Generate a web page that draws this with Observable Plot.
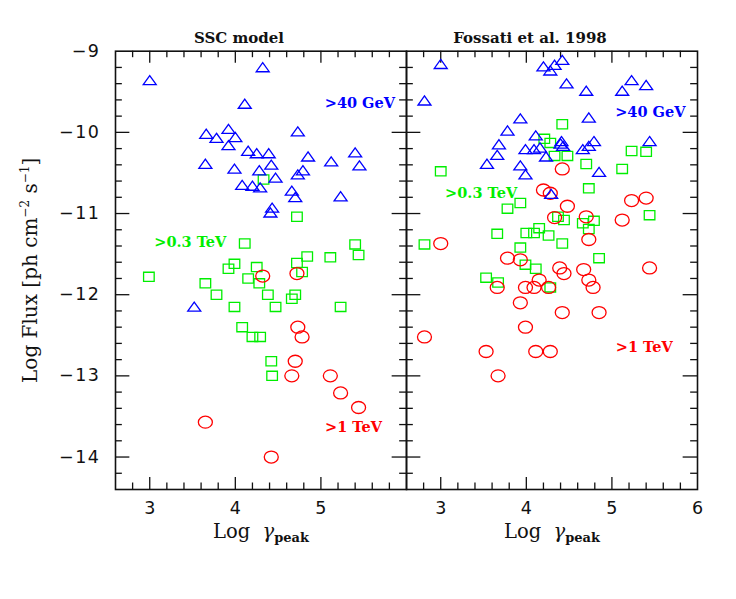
<!DOCTYPE html>
<html><head><meta charset="utf-8">
<script src="https://cdn.jsdelivr.net/npm/d3@7"></script>
<script src="https://cdn.jsdelivr.net/npm/@observablehq/plot@0.6"></script>
<style>body{margin:0;background:#fff} svg{display:block}</style>
</head><body><div id="chart"></div>
<script>
// ---------- data ----------
const panels = ["SSC model", "Fossati et al. 1998"];

// SSC model panel: [log gamma_peak, log flux]
const sscGeV40 = [[3.00,-9.36],[4.32,-9.20],[4.11,-9.65],[3.66,-10.02],[3.78,-10.07],[3.92,-9.96],[4.00,-10.06],[3.92,-10.16],[4.73,-9.99],[4.15,-10.23],[4.25,-10.26],[4.39,-10.26],[3.65,-10.39],[3.99,-10.45],[4.28,-10.47],[4.42,-10.40],[4.47,-10.56],[4.73,-10.52],[4.79,-10.47],[4.85,-10.30],[5.12,-10.36],[5.40,-10.25],[5.45,-10.41],[4.08,-10.65],[4.20,-10.66],[4.29,-10.68],[4.66,-10.72],[4.70,-10.80],[5.23,-10.79],[4.43,-10.93],[4.41,-10.99],[3.52,-12.15]];
const sscTeV03 = [[4.33,-10.58],[4.72,-11.04],[4.11,-11.37],[5.40,-11.38],[4.84,-11.53],[5.11,-11.54],[5.44,-11.51],[2.99,-11.78],[3.99,-11.62],[3.92,-11.68],[4.25,-11.66],[4.15,-11.80],[4.28,-11.86],[4.72,-11.61],[4.78,-11.72],[3.65,-11.86],[3.78,-12.00],[4.38,-12.00],[4.70,-12.00],[4.66,-12.05],[3.99,-12.15],[4.47,-12.15],[5.23,-12.15],[4.08,-12.40],[4.20,-12.52],[4.29,-12.52],[4.42,-12.82],[4.43,-13.00]];
const sscTeV1 = [[4.32,-11.77],[4.72,-11.74],[4.73,-12.40],[4.78,-12.52],[4.70,-12.82],[4.66,-13.00],[5.11,-13.00],[5.23,-13.21],[5.44,-13.39],[3.65,-13.57],[4.42,-14.00]];

// Fossati et al. 1998 panel
const fosGeV40 = [[3.00,-9.16],[2.81,-9.61],[4.20,-9.19],[4.28,-9.24],[4.33,-9.17],[4.42,-9.11],[4.47,-9.40],[4.70,-9.49],[5.23,-9.36],[5.12,-9.49],[5.40,-9.42],[3.93,-9.83],[4.73,-9.82],[3.78,-9.98],[3.68,-10.15],[3.66,-10.28],[3.54,-10.39],[4.11,-10.04],[3.99,-10.21],[4.09,-10.21],[4.16,-10.19],[4.23,-10.30],[4.40,-10.14],[4.43,-10.17],[4.41,-10.11],[4.66,-10.21],[4.73,-10.17],[4.79,-10.11],[5.44,-10.11],[3.93,-10.41],[3.99,-10.52],[4.85,-10.49],[4.29,-10.76]];
const fosTeV03 = [[4.42,-9.90],[4.21,-10.08],[4.28,-10.13],[4.33,-10.29],[4.48,-10.29],[5.23,-10.23],[5.40,-10.24],[3.00,-10.48],[4.70,-10.39],[5.12,-10.45],[4.73,-10.69],[3.93,-10.87],[3.78,-10.94],[5.44,-11.02],[4.37,-11.04],[4.44,-11.08],[4.66,-11.12],[4.79,-11.09],[4.73,-11.19],[4.15,-11.18],[4.00,-11.24],[4.09,-11.24],[4.26,-11.27],[3.66,-11.25],[4.42,-11.37],[3.93,-11.42],[2.81,-11.38],[4.85,-11.55],[3.99,-11.63],[4.11,-11.68],[3.53,-11.79],[3.67,-11.85],[4.28,-11.91]];
const fosTeV1 = [[4.42,-10.45],[4.20,-10.71],[4.28,-10.75],[4.48,-10.91],[5.23,-10.84],[5.40,-10.81],[4.33,-11.05],[4.70,-11.04],[5.12,-11.08],[3.00,-11.37],[4.73,-11.32],[3.78,-11.55],[3.93,-11.57],[4.39,-11.67],[4.44,-11.74],[4.67,-11.69],[4.73,-11.82],[4.78,-11.91],[5.44,-11.67],[4.15,-11.82],[3.99,-11.91],[4.09,-11.91],[4.26,-11.91],[3.66,-11.91],[3.93,-12.10],[4.42,-12.22],[4.85,-12.22],[3.99,-12.40],[2.81,-12.52],[3.53,-12.70],[4.11,-12.70],[4.28,-12.70],[3.67,-13.00]];

// tick labels
const xTickLabelsLeft = [3, 4, 5];
const xTickLabelsRight = [3, 4, 5, 6];
const yTickLabels = [-9, -10, -11, -12, -13, -14];

// band labels: [panel index, text, x, y]
const bandLabels = [
  [0, ">40 GeV", 5.455, -9.64], [0, ">0.3 TeV", 3.474, -11.35], [0, ">1 TeV", 5.38, -13.64],
  [1, ">40 GeV", 5.448, -9.75], [1, ">0.3 TeV", 3.472, -10.75], [1, ">1 TeV", 5.378, -12.65]
];

// ---------- layout ----------
const W = 736, H = 599;
const mL = 114, mR = 38.7, mT = 50.7, mB = 110;
const innerH = H - mT - mB;
const facetW = (W - mL - mR) / 2;

const blue = "#0000ff", green = "#00ee00", red = "#ff0000", ink = "#111";

const rows = (arr, panel) => arr.map(([x, y]) => ({panel, x, y}));
const tri = [...rows(sscGeV40, panels[0]), ...rows(fosGeV40, panels[1])];
const sq = [...rows(sscTeV03, panels[0]), ...rows(fosTeV03, panels[1])];
const circ = [...rows(sscTeV1, panels[0]), ...rows(fosTeV1, panels[1])];

// custom symbols (size = 64 when r = 8/sqrt(pi))
const R = 8 / Math.sqrt(Math.PI);
const triSym = {draw(c, s) { const k = Math.sqrt(s) / 8;
  c.moveTo(0, -4.8 * k); c.lineTo(6.5 * k, 4.3 * k); c.lineTo(-6.5 * k, 4.3 * k); c.closePath(); }};
const sqSym = {draw(c, s) { const k = Math.sqrt(s) / 8, w = 5.3 * k, h = 4.6 * k;
  c.moveTo(-w, -h); c.lineTo(w, -h); c.lineTo(w, h); c.lineTo(-w, h); c.closePath(); }};
const ellSym = {draw(c, s) { const k = Math.sqrt(s) / 8, a = 7 * k, b = 6 * k, q = 0.5523;
  c.moveTo(a, 0);
  c.bezierCurveTo(a, q * b, q * a, b, 0, b);
  c.bezierCurveTo(-q * a, b, -a, q * b, -a, 0);
  c.bezierCurveTo(-a, -q * b, -q * a, -b, 0, -b);
  c.bezierCurveTo(q * a, -b, a, -q * b, a, 0);
  c.closePath(); }};

const xMajor = [3, 4, 5];
const xMinor = d3.range(14, 30).map(i => i / 5).filter(v => Math.abs(v - Math.round(v)) > 1e-6);
const yMajor = [-10, -11, -12, -13, -14];
const yMinor = d3.range(-71, -45).map(i => i / 5).filter(v => Math.abs(v - Math.round(v)) > 1e-6 && v > -14.4);

const sans = "DejaVu Sans", serif = "DejaVu Serif";

const xLab = [...xTickLabelsLeft.map(v => ({panel: panels[0], v})), ...xTickLabelsRight.map(v => ({panel: panels[1], v}))];
const yLab = yTickLabels.map(v => ({panel: panels[0], v}));
const bl = bandLabels.map(([p, t, x, y]) => ({panel: panels[p], t, x, y}));
const bandColor = t => t.includes("GeV") ? blue : t.includes("0.3") ? green : red;

const chart = Plot.plot({
  width: W, height: H,
  marginLeft: mL, marginRight: mR, marginTop: mT, marginBottom: mB,
  x: {domain: [2.6, 6.0], axis: null},
  y: {domain: [-14.4, -9], axis: null},
  fx: {domain: panels, padding: 0, axis: null},
  marks: [
    // ticks (inward, all sides)
    Plot.tickX(xMajor, {x: d => d, insetTop: innerH - 12, stroke: ink, strokeWidth: 1.3}),
    Plot.tickX(xMajor, {x: d => d, insetBottom: innerH - 12, stroke: ink, strokeWidth: 1.3}),
    Plot.tickX(xMinor, {x: d => d, insetTop: innerH - 6.5, stroke: ink, strokeWidth: 1.3}),
    Plot.tickX(xMinor, {x: d => d, insetBottom: innerH - 6.5, stroke: ink, strokeWidth: 1.3}),
    Plot.tickY(yMajor, {y: d => d, insetRight: facetW - 15, stroke: ink, strokeWidth: 1.3}),
    Plot.tickY(yMajor, {y: d => d, insetLeft: facetW - 15, stroke: ink, strokeWidth: 1.3}),
    Plot.tickY(yMinor, {y: d => d, insetRight: facetW - 7.5, stroke: ink, strokeWidth: 1.3}),
    Plot.tickY(yMinor, {y: d => d, insetLeft: facetW - 7.5, stroke: ink, strokeWidth: 1.3}),
    Plot.frame({stroke: ink, strokeWidth: 1.6}),
    // data
    Plot.dot(sq, {fx: "panel", x: "x", y: "y", symbol: sqSym, r: R, stroke: green, fill: "none", strokeWidth: 1.3}),
    Plot.dot(circ, {fx: "panel", x: "x", y: "y", symbol: ellSym, r: R, stroke: red, fill: "none", strokeWidth: 1.3}),
    Plot.dot(tri, {fx: "panel", x: "x", y: "y", symbol: triSym, r: R, stroke: blue, fill: "none", strokeWidth: 1.3}),
    // band labels
    Plot.text(bl, {fx: "panel", x: "x", y: "y", text: "t", fill: d => bandColor(d.t),
      fontFamily: serif, fontWeight: "bold", fontSize: 14.5}),
    // titles
    Plot.text(panels.map(p => ({panel: p})), {fx: "panel", text: "panel", frameAnchor: "top", lineAnchor: "middle",
      dy: -13, dx: -22, fontFamily: serif, fontWeight: "bold", fontSize: 15, fill: ink}),
    // tick labels
    Plot.text(xLab, {fx: "panel", x: "v", text: d => String(d.v), frameAnchor: "bottom", lineAnchor: "middle", dy: 19,
      fontFamily: sans, fontSize: 17.5, fill: ink}),
    Plot.text(yLab, {fx: "panel", y: "v", text: d => "\u2212" + Math.abs(d.v), frameAnchor: "left", textAnchor: "end", dx: -15,
      fontFamily: sans, fontSize: 17.5, fill: ink}),
    // axis titles
    Plot.text(panels.map(p => ({panel: p})), {fx: "panel", text: () => "Log  ", frameAnchor: "bottom", lineAnchor: "middle",
      dy: 42, fontFamily: serif, fontSize: 19.5, fill: ink}),
    Plot.text([{panel: panels[0]}], {fx: "panel", text: () => "Log Flux [ph cm", frameAnchor: "left", textAnchor: "middle",
      lineAnchor: "middle", rotate: -90, dx: -85, fontFamily: serif, fontSize: 20, fill: ink})
  ]
});

const svg = d3.select(chart);
svg.selectAll("text").filter(function() { return this.textContent === "Log  "; })
  .each(function() {
    const t = d3.select(this);
    t.append("tspan").attr("font-style", "italic").text("\u03b3");
    t.append("tspan").attr("dy", 4).attr("font-size", 13).attr("font-weight", "bold").text("peak");
  });
svg.selectAll("text").filter(function() { return this.textContent === "Log Flux [ph cm"; })
  .each(function() {
    const t = d3.select(this);
    t.append("tspan").attr("dy", -8).attr("font-size", 12).text("\u22122");
    t.append("tspan").attr("dy", 8).text(" s");
    t.append("tspan").attr("dy", -8).attr("font-size", 12).text("\u22121");
    t.append("tspan").attr("dy", 8).text("]");
  });
svg.selectAll("text").filter(function() { return /^\u2212\d+$/.test(this.textContent); })
  .attr("letter-spacing", 1.5);

document.getElementById("chart").appendChild(chart);
</script>
</body></html>
